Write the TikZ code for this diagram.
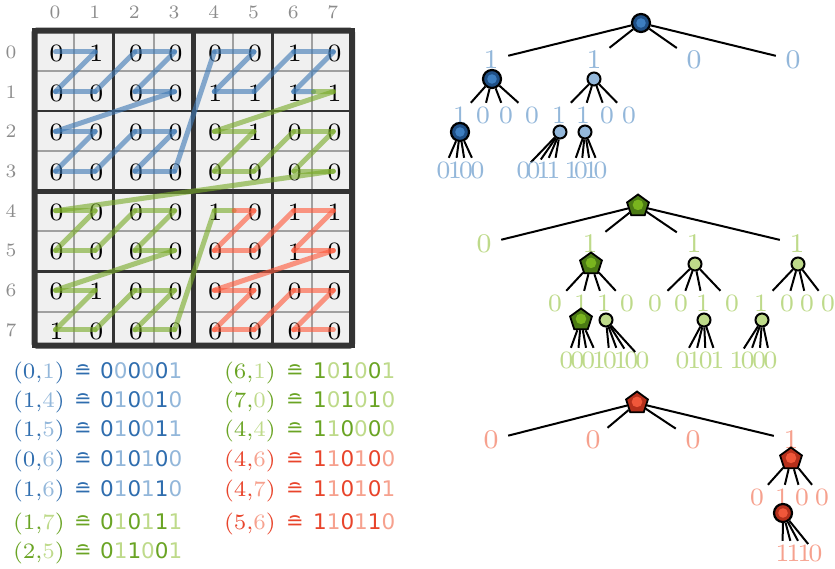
\documentclass[tikz,border=0pt]{standalone}
\usepackage{fontspec}
\setmainfont{lmroman7-regular.otf}
\newfontfamily\bitfont{DejaVu Sans}
\usetikzlibrary{shapes.geometric,calc}

% text colours: dark = row bits, light = column bits
\definecolor{bluedark}{HTML}{2F6DAE}
\definecolor{bluelight}{HTML}{93B7DA}
\definecolor{greendark}{HTML}{6AA424}
\definecolor{greenlight}{HTML}{BEDA8A}
\definecolor{reddark}{HTML}{E8442B}
\definecolor{redlight}{HTML}{F6A18E}
% Z-order curve
\definecolor{zblue}{HTML}{3F7AB5}
\definecolor{zgreen}{HTML}{7AAB2A}
\definecolor{zred}{HTML}{FF5A3C}
% matrix
\definecolor{cellfill}{HTML}{F0F0F0}
\definecolor{cellline}{HTML}{A0A0A0}
\definecolor{frame}{HTML}{333333}
\definecolor{axis}{HTML}{8C8C8C}
% tree nodes
\definecolor{bring}{HTML}{1F4F85}
\definecolor{bcore}{HTML}{3D7EC0}
\definecolor{gring}{HTML}{4B7A14}
\definecolor{gcore}{HTML}{79B51E}
\definecolor{rring}{HTML}{B5301C}
\definecolor{rcore}{HTML}{F0573A}

\newcommand\cellpair[4]{\textcolor{#1}{(#3,}\textcolor{#2}{#4}\textcolor{#1}{)}}
\newcommand\morton[8]{\textcolor{#1}{#3}\textcolor{#2}{#4}\textcolor{#1}{#5}\textcolor{#2}{#6}\textcolor{#1}{#7}\textcolor{#2}{#8}}

\begin{document}
\begin{tikzpicture}[x=1pt,y=-1pt,
  declare function={gx(\k)=34.5+39.69*\k; gy(\k)=(\k<8)*(30.75+40.15*\k)+(\k>7)*345.5;},
  cellbox/.style={draw=cellline, fill=cellfill, line width=2},
  digit/.style={inner sep=0, font=\fontsize{25}{25}\selectfont},
  blockframe/.style={draw=frame, line width=2.8},
  quadframe/.style={draw=frame, line width=5.5},
  outerframe/.style={draw=frame, line width=6, rounded corners=2pt},
  axislab/.style={text=axis, inner sep=0, font=\fontsize{19}{19}\selectfont},
  zseg/.style={line width=5, line cap=round, opacity=0.62},
  edge/.style={line width=2, draw=black},
  lab/.style={inner sep=0, minimum width=34, minimum height=24,
    font=\fontsize{25}{25}\selectfont},
  toplab/.style={lab, font=\fontsize{27}{27}\selectfont},
  leaf/.style={inner sep=0, minimum height=24, font=\fontsize{25}{25}\selectfont},
  bigdot/.style 2 args={circle, minimum size=18, inner sep=0, draw=black,
    line width=2.2, fill=#1,
    path picture={\fill[#2] (path picture bounding box.center) circle (4.8pt);}},
  smalldot/.style={circle, minimum size=13, inner sep=0, draw=black,
    line width=2, fill=#1},
  pent/.style 2 args={regular polygon, regular polygon sides=5, minimum size=23,
    inner sep=0, draw=black, line width=1.8, fill=#1,
    path picture={\fill[#2] (path picture bounding box.center) circle (5.3pt);}},
  pairtxt/.style={anchor=base east, inner sep=0, font=\fontsize{22}{22}\selectfont},
  corr/.style={anchor=base, inner sep=0, font=\bitfont\fontsize{21}{21}\selectfont},
  bitstxt/.style={anchor=base west, inner sep=0, font=\bitfont\fontsize{21.5}{21.5}\selectfont},
]
\useasboundingbox (0,0) rectangle (835,569);

% ---------------- matrix ----------------
\foreach \r in {0,...,7}
  \foreach \c in {0,...,7} {
    \pgfmathtruncatemacro\rr{\r+1}
    \pgfmathtruncatemacro\cc{\c+1}
    \draw[cellbox] ({gx(\c)},{gy(\r)}) rectangle ({gx(\cc)},{gy(\rr)});
  }
% 2x2 blocks, 4x4 quadrants and the outer frame
\foreach \i in {0,2,4,6}
  \foreach \j in {0,2,4,6} {
    \pgfmathtruncatemacro\ii{\i+2}
    \pgfmathtruncatemacro\jj{\j+2}
    \draw[blockframe] ({gx(\j)},{gy(\i)}) rectangle ({gx(\jj)},{gy(\ii)});
  }
\foreach \i in {0,4}
  \foreach \j in {0,4} {
    \pgfmathtruncatemacro\ii{\i+4}
    \pgfmathtruncatemacro\jj{\j+4}
    \draw[quadframe] ({gx(\j)},{gy(\i)}) rectangle ({gx(\jj)},{gy(\ii)});
  }
\draw[outerframe] ({gx(0)},{gy(0)}) rectangle ({gx(8)},{gy(8)});

% matrix entries, row by row
\foreach \c/\v in {0/0,1/1,2/0,3/0,4/0,5/0,6/1,7/0}
  \node[digit] (d-0-\c) at ({56.5+39.7*\c},53.3) {\v};
\foreach \c/\v in {0/0,1/0,2/0,3/0,4/1,5/1,6/1,7/1}
  \node[digit] (d-1-\c) at ({56.5+39.7*\c},{53.3+39.7}) {\v};
\foreach \c/\v in {0/0,1/0,2/0,3/0,4/0,5/1,6/0,7/0}
  \node[digit] (d-2-\c) at ({56.5+39.7*\c},{53.3+39.7*2}) {\v};
\foreach \c/\v in {0/0,1/0,2/0,3/0,4/0,5/0,6/0,7/0}
  \node[digit] (d-3-\c) at ({56.5+39.7*\c},{53.3+39.7*3}) {\v};
\foreach \c/\v in {0/0,1/0,2/0,3/0,4/1,5/0,6/1,7/1}
  \node[digit] (d-4-\c) at ({56.5+39.7*\c},{53.3+39.7*4}) {\v};
\foreach \c/\v in {0/0,1/0,2/0,3/0,4/0,5/0,6/1,7/0}
  \node[digit] (d-5-\c) at ({56.5+39.7*\c},{53.3+39.7*5}) {\v};
\foreach \c/\v in {0/0,1/1,2/0,3/0,4/0,5/0,6/0,7/0}
  \node[digit] (d-6-\c) at ({56.5+39.7*\c},{53.3+39.7*6}) {\v};
\foreach \c/\v in {0/1,1/0,2/0,3/0,4/0,5/0,6/0,7/0}
  \node[digit] (d-7-\c) at ({56.5+39.7*\c},{53.3+39.7*7}) {\v};

% axis numbers
\foreach \c in {0,...,7} \node[axislab] (col\c) at ({55+39.7*\c},12) {\c};
\foreach \r in {0,...,7} \node[axislab] (row\r) at (11,{52+39.7*\r}) {\r};

% Z-order (Morton) curve through the cells
\foreach \i in {0,...,63} {
  \pgfmathtruncatemacro\zr{4*mod(floor(\i/32),2)+2*mod(floor(\i/8),2)+mod(floor(\i/2),2)}
  \pgfmathtruncatemacro\zc{4*mod(floor(\i/16),2)+2*mod(floor(\i/4),2)+mod(\i,2)}
  \coordinate (z\i) at ({55.5+39.7*\zc},{52+39.7*\zr});
}
\foreach \i in {0,...,21} {
  \pgfmathtruncatemacro\j{\i+1}
  \draw[zseg, zblue] (z\i) -- (z\j);
}
\coordinate (zbg) at ($(z22)!0.5!(z23)$);
\draw[zseg, zblue] (z22) -- (zbg);
\draw[zseg, zgreen] (zbg) -- (z23);
\foreach \i in {23,...,47} {
  \pgfmathtruncatemacro\j{\i+1}
  \draw[zseg, zgreen] (z\i) -- (z\j);
}
\coordinate (zgr) at ($(z48)!0.5!(z49)$);
\draw[zseg, zgreen] (z48) -- (zgr);
\draw[zseg, zred] (zgr) -- (z49);
\foreach \i in {49,...,62} {
  \pgfmathtruncatemacro\j{\i+1}
  \draw[zseg, zred] (z\i) -- (z\j);
}

% ---------------- cell to code table ----------------
\node[pairtxt] (p1) at (65,378) {\cellpair{bluedark}{bluelight}{0}{1}};
\node[corr, text=bluedark] (e1) at (83,378) {≘};
\node[bitstxt] (m1) at (100,378) {\morton{bluedark}{bluelight}000001};
\node[pairtxt] (p2) at (65,407) {\cellpair{bluedark}{bluelight}{1}{4}};
\node[corr, text=bluedark] (e2) at (83,407) {≘};
\node[bitstxt] (m2) at (100,407) {\morton{bluedark}{bluelight}010010};
\node[pairtxt] (p3) at (65,436.5) {\cellpair{bluedark}{bluelight}{1}{5}};
\node[corr, text=bluedark] (e3) at (83,436.5) {≘};
\node[bitstxt] (m3) at (100,436.5) {\morton{bluedark}{bluelight}010011};
\node[pairtxt] (p4) at (65,466) {\cellpair{bluedark}{bluelight}{0}{6}};
\node[corr, text=bluedark] (e4) at (83,466) {≘};
\node[bitstxt] (m4) at (100,466) {\morton{bluedark}{bluelight}010100};
\node[pairtxt] (p5) at (65,496) {\cellpair{bluedark}{bluelight}{1}{6}};
\node[corr, text=bluedark] (e5) at (83,496) {≘};
\node[bitstxt] (m5) at (100,496) {\morton{bluedark}{bluelight}010110};
\node[pairtxt] (p6) at (65,529) {\cellpair{greendark}{greenlight}{1}{7}};
\node[corr, text=greendark] (e6) at (83,529) {≘};
\node[bitstxt] (m6) at (100,529) {\morton{greendark}{greenlight}010111};
\node[pairtxt] (p7) at (65,558) {\cellpair{greendark}{greenlight}{2}{5}};
\node[corr, text=greendark] (e7) at (83,558) {≘};
\node[bitstxt] (m7) at (100,558) {\morton{greendark}{greenlight}011001};

\node[pairtxt] (p8) at (276,378) {\cellpair{greendark}{greenlight}{6}{1}};
\node[corr, text=greendark] (e8) at (295,378) {≘};
\node[bitstxt] (m8) at (313,378) {\morton{greendark}{greenlight}101001};
\node[pairtxt] (p9) at (276,407) {\cellpair{greendark}{greenlight}{7}{0}};
\node[corr, text=greendark] (e9) at (295,407) {≘};
\node[bitstxt] (m9) at (313,407) {\morton{greendark}{greenlight}101010};
\node[pairtxt] (p10) at (276,436.5) {\cellpair{greendark}{greenlight}{4}{4}};
\node[corr, text=greendark] (e10) at (295,436.5) {≘};
\node[bitstxt] (m10) at (313,436.5) {\morton{greendark}{greenlight}110000};
\node[pairtxt] (p11) at (276,466) {\cellpair{reddark}{redlight}{4}{6}};
\node[corr, text=reddark] (e11) at (295,466) {≘};
\node[bitstxt] (m11) at (313,466) {\morton{reddark}{redlight}110100};
\node[pairtxt] (p12) at (276,496) {\cellpair{reddark}{redlight}{4}{7}};
\node[corr, text=reddark] (e12) at (295,496) {≘};
\node[bitstxt] (m12) at (313,496) {\morton{reddark}{redlight}110101};
\node[pairtxt] (p13) at (276,529) {\cellpair{reddark}{redlight}{5}{6}};
\node[corr, text=reddark] (e13) at (295,529) {≘};
\node[bitstxt] (m13) at (313,529) {\morton{reddark}{redlight}110110};

% ---------------- blue tree ----------------
\node[bigdot={bring}{bcore}] (B) at (641,23) {};
\foreach \k/\x/\v in {1/491/1,2/594/1,3/694/0,4/793/0} {
  \node[toplab, text=bluelight] (B\k) at (\x,60) {\v};
  \draw[edge] (B) -- (B\k);
}
\node[bigdot={bring}{bcore}] (B1n) at (492,79) {};
\node[smalldot=bluelight] (B2n) at (594,79) {};
\foreach \k/\x/\v in {1/460/1,2/483/0,3/506/0,4/532/0} {
  \node[lab, text=bluelight] (B1\k) at (\x,115) {\v};
  \draw[edge] (B1n) -- (B1\k);
}
\foreach \k/\x/\v in {1/559/1,2/583/1,3/607/0,4/629/0} {
  \node[lab, text=bluelight] (B2\k) at (\x,115) {\v};
  \draw[edge] (B2n) -- (B2\k);
}
\node[bigdot={bring}{bcore}] (B11n) at (460,132) {};
\node[smalldot=bluelight] (B21n) at (560,132) {};
\node[smalldot=bluelight] (B22n) at (585,132) {};
\foreach \k/\x/\v in {1/443.5/0,2/455/1,3/466/0,4/477.5/0} {
  \node[leaf, text=bluelight] (B11\k) at (\x,170) {\v};
  \draw[edge] (B11n) -- (B11\k);
}
\foreach \k/\x/\v in {1/523.5/0,2/533.5/0,3/543.5/1,4/553.5/1} {
  \node[leaf, text=bluelight] (B21\k) at (\x,170) {\v};
  \draw[edge] (B21n) -- (B21\k);
}
\foreach \k/\x/\v in {1/571.5/1,2/581/0,3/591/1,4/600.5/0} {
  \node[leaf, text=bluelight] (B22\k) at (\x,170) {\v};
  \draw[edge] (B22n) -- (B22\k);
}

% ---------------- green tree ----------------
\node[pent={gring}{gcore}] (G) at (638,206) {};
\foreach \k/\x/\v in {1/484/0,2/590/1,3/694/1,4/797/1} {
  \node[toplab, text=greenlight] (G\k) at (\x,244) {\v};
  \draw[edge] (G) -- (G\k);
}
\node[pent={gring}{gcore}] (G2n) at (591,264) {};
\node[smalldot=greenlight] (G3n) at (695,264) {};
\node[smalldot=greenlight] (G4n) at (798,264) {};
\foreach \k/\x/\v in {1/555/0,2/581/1,3/604/1,4/627/0} {
  \node[lab, text=greenlight] (G2\k) at (\x,303) {\v};
  \draw[edge] (G2n) -- (G2\k);
}
\foreach \k/\x/\v in {1/655/0,2/681/0,3/703/1,4/732/0} {
  \node[lab, text=greenlight] (G3\k) at (\x,303) {\v};
  \draw[edge] (G3n) -- (G3\k);
}
\foreach \k/\x/\v in {1/761/1,2/787/0,3/807/0,4/828/0} {
  \node[lab, text=greenlight] (G4\k) at (\x,303) {\v};
  \draw[edge] (G4n) -- (G4\k);
}
\node[pent={gring}{gcore}] (G22n) at (581,320) {};
\node[smalldot=greenlight] (G23n) at (606,320) {};
\node[smalldot=greenlight] (G33n) at (704,320) {};
\node[smalldot=greenlight] (G41n) at (762,320) {};
\foreach \k/\x/\v in {1/566.5/0,2/577.4/0,3/588.2/0,4/599.1/1} {
  \node[leaf, text=greenlight] (G22\k) at (\x,360) {\v};
  \draw[edge] (G22n) -- (G22\k);
}
\foreach \k/\x/\v in {1/609.9/0,2/620.8/1,3/631.6/0,4/642.5/0} {
  \node[leaf, text=greenlight] (G23\k) at (\x,360) {\v};
  \draw[edge] (G23n) -- (G23\k);
}
\foreach \k/\x/\v in {1/682.5/0,2/694.2/1,3/705.8/0,4/717.5/1} {
  \node[leaf, text=greenlight] (G33\k) at (\x,360) {\v};
  \draw[edge] (G33n) -- (G33\k);
}
\foreach \k/\x/\v in {1/736.5/1,2/747.8/0,3/759.2/0,4/770.5/0} {
  \node[leaf, text=greenlight] (G41\k) at (\x,360) {\v};
  \draw[edge] (G41n) -- (G41\k);
}

% ---------------- red tree ----------------
\node[pent={rring}{rcore}] (R) at (637,403) {};
\foreach \k/\x/\v in {1/491/0,2/593/0,3/693/0,4/791/1} {
  \node[toplab, text=redlight] (R\k) at (\x,440) {\v};
  \draw[edge] (R) -- (R\k);
}
\node[pent={rring}{rcore}] (R4n) at (791,459) {};
\foreach \k/\x/\v in {1/757/0,2/782/1,3/802/0,4/822/0} {
  \node[lab, text=redlight] (R4\k) at (\x,497) {\v};
  \draw[edge] (R4n) -- (R4\k);
}
\node[bigdot={rring}{rcore}] (R42n) at (783,513) {};
\foreach \k/\x/\v in {1/782.5/1,2/793.5/1,3/804.5/1,4/815.5/0} {
  \node[leaf, text=redlight] (R42\k) at (\x,553) {\v};
  \draw[edge] (R42n) -- (R42\k);
}
\end{tikzpicture}
\end{document}
